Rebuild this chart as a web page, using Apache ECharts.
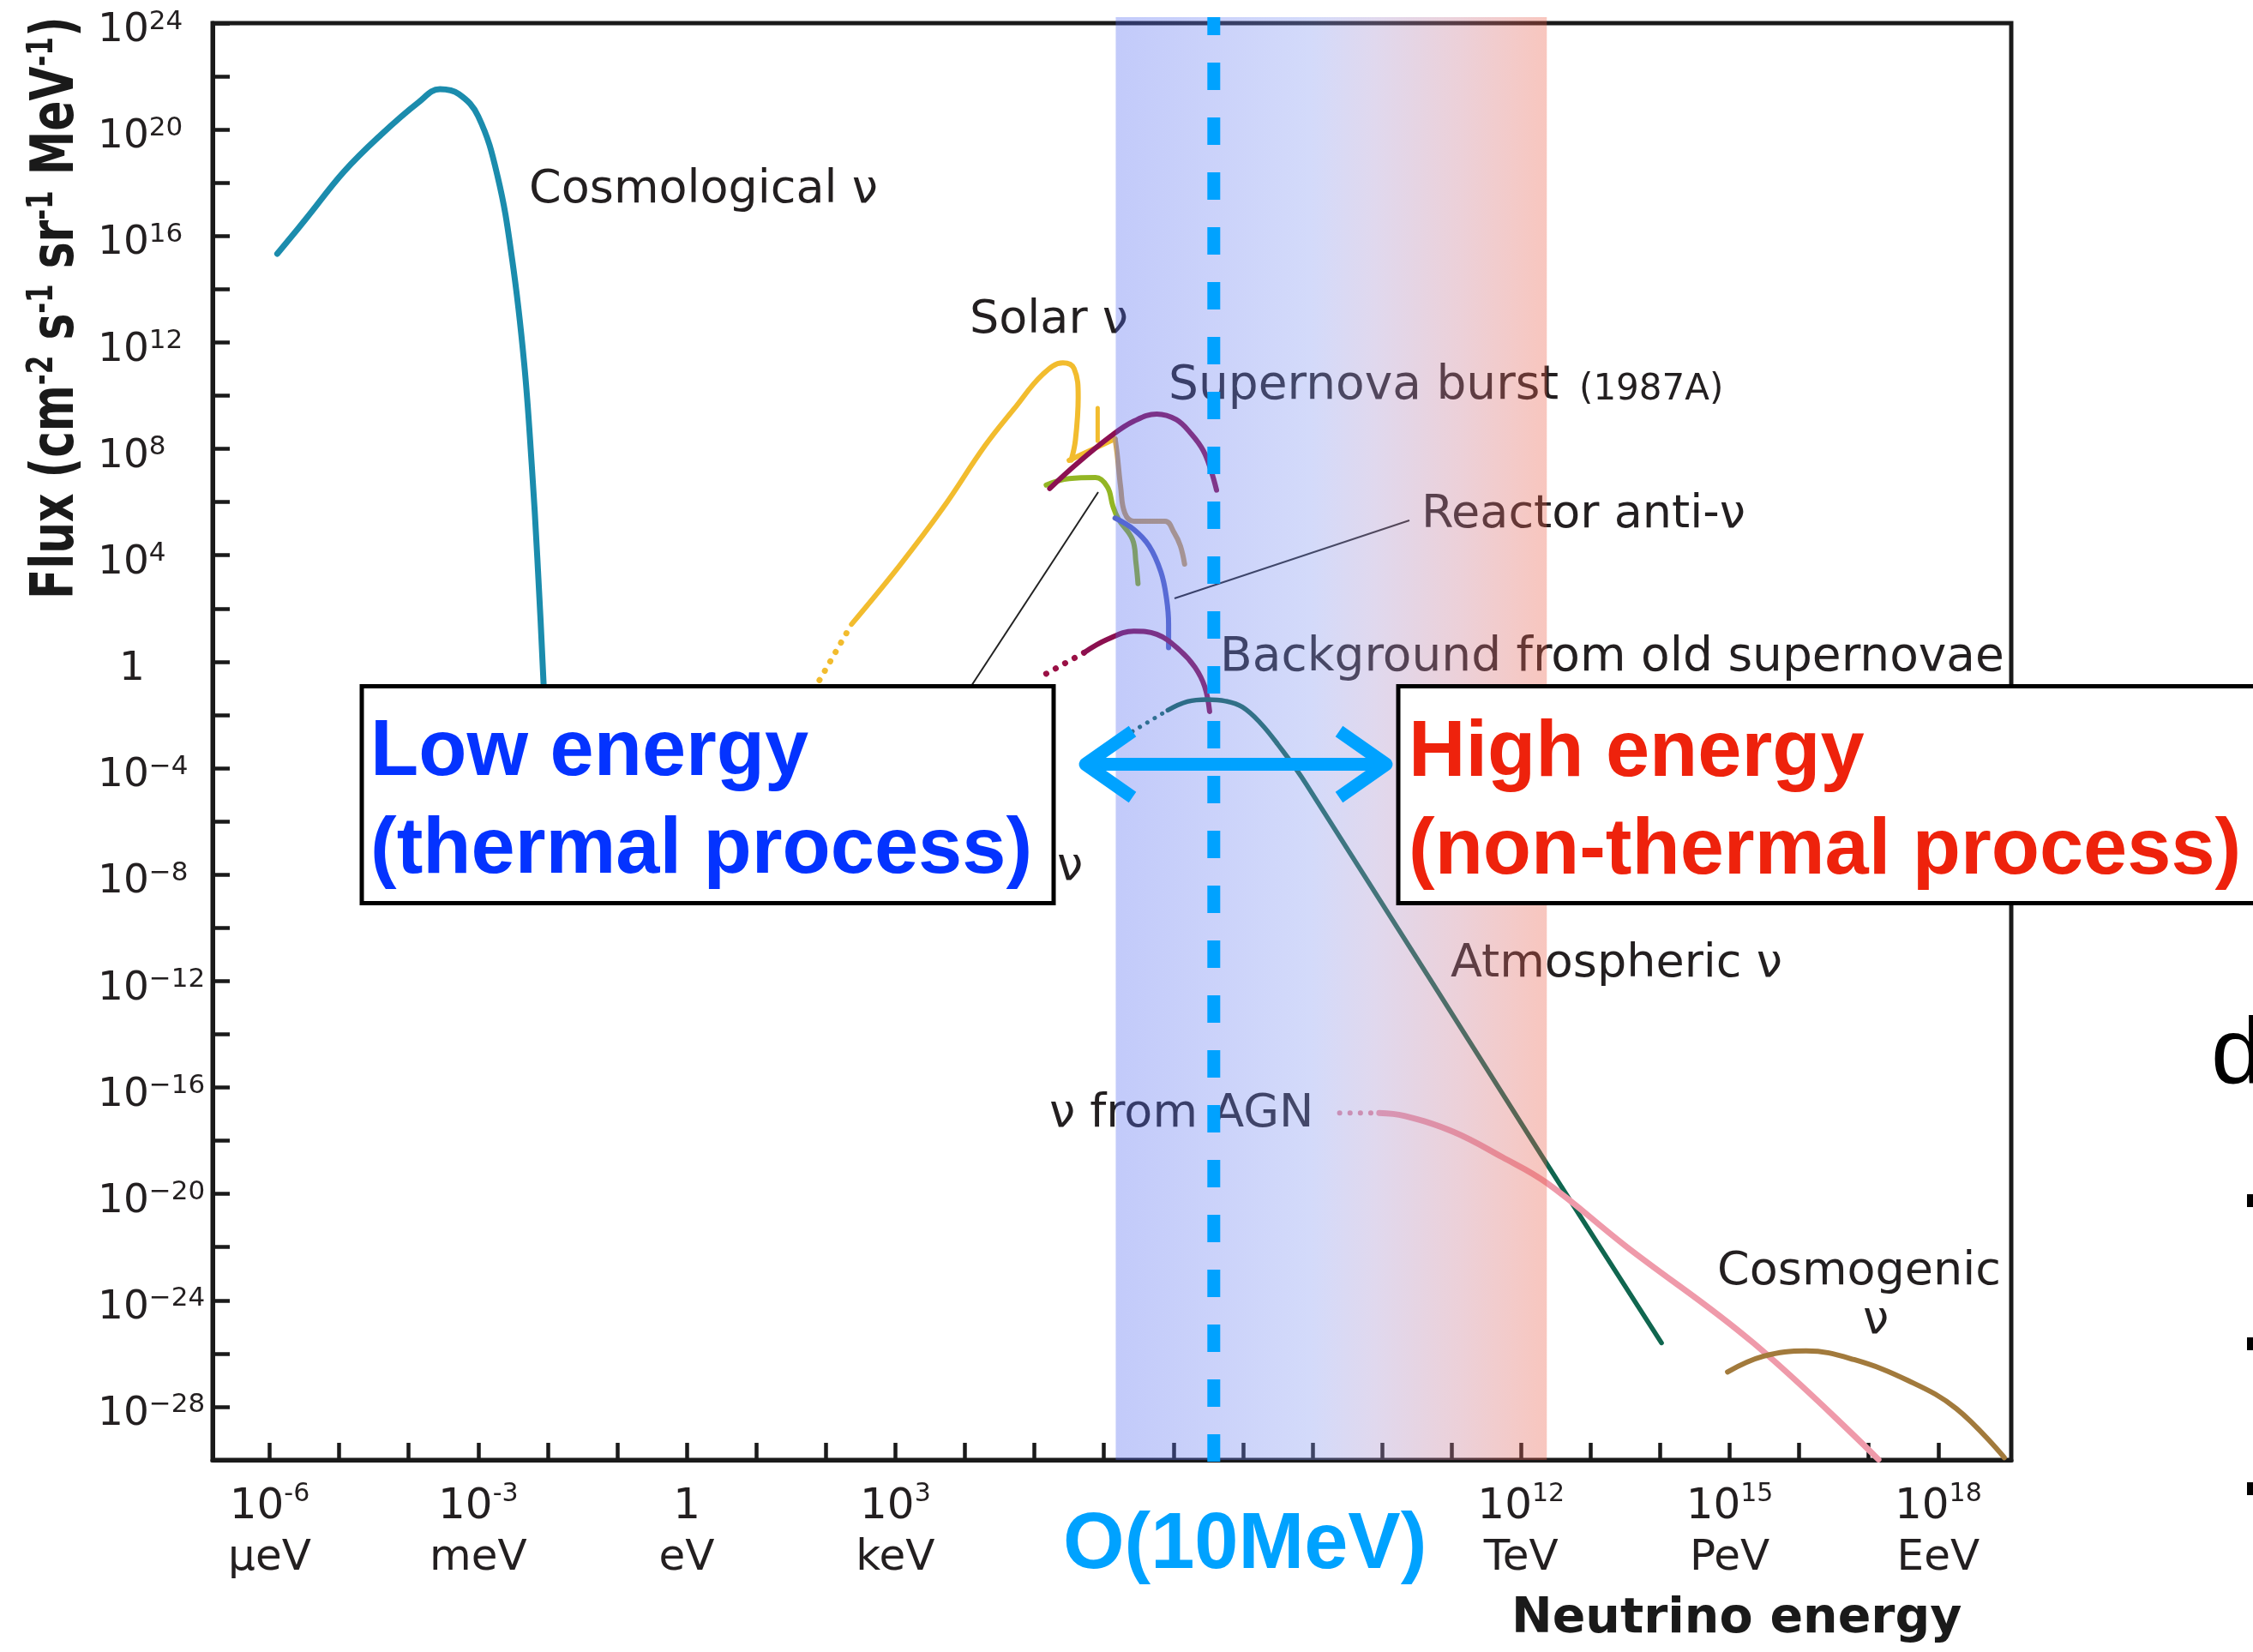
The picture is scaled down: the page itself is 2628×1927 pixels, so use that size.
<!DOCTYPE html>
<html>
<head>
<meta charset="utf-8">
<title>Neutrino flux spectrum</title>
<script src="https://cdn.jsdelivr.net/npm/echarts@6/dist/echarts.min.js"></script>
<style>
  html, body { margin: 0; padding: 0; background: #ffffff; }
  #chart { width: 2628px; height: 1927px; }
</style>
</head>
<body>
<div id="chart"></div>
<script>
// Every point is [log10(E / eV), log10(flux / cm^-2 s^-1 sr^-1 MeV^-1)]
const cosmological = [[-5.89, 15.33], [-5.46, 16.7], [-4.93, 18.42], [-4.4, 19.8], [-3.86, 21.02], [-3.55, 21.52], [-3.28, 21.34], [-3.0, 20.5], [-2.72, 18.23], [-2.51, 15.09], [-2.34, 11.25], [-2.23, 7.41], [-2.15, 3.92], [-2.06, -0.8], [-2.02, -3.5]];
const solarLowDotted = [[1.6, -2.1], [2.37, 1.41]];
const solarPP = [[2.37, 1.41], [3.06, 3.61], [3.68, 5.76], [4.29, 8.12], [4.71, 9.51], [5.12, 10.8], [5.41, 11.23], [5.57, 11.02], [5.63, 9.94], [5.59, 8.33], [5.53, 7.58]];
const solarLine = [[5.91, 9.53], [5.91, 8.3]];
const solarB8 = [[5.5, 7.57], [5.85, 8.0], [6.16, 8.38]];
const solarHigh = [[6.16, 8.38], [6.19, 7.81], [6.24, 6.57], [6.3, 5.59], [6.43, 5.28], [6.88, 5.28], [7.01, 4.85], [7.1, 4.35], [7.16, 3.67]];
const terrestrial = [[5.17, 6.64], [5.5, 6.88], [5.88, 6.92], [6.05, 6.57], [6.13, 5.84], [6.21, 5.35], [6.41, 4.6], [6.46, 3.74], [6.49, 2.94]];
const reactor = [[6.16, 5.4], [6.43, 4.97], [6.65, 4.35], [6.82, 3.37], [6.9, 2.38], [6.93, 1.4], [6.93, 0.53]];
const supernovaBurst = [[5.22, 6.51], [5.61, 7.44], [6.1, 8.48], [6.43, 9.04], [6.76, 9.31], [7.04, 9.1], [7.26, 8.55], [7.43, 7.93], [7.54, 7.19], [7.62, 6.45]];
const relicDotted = [[5.17, -0.45], [5.72, 0.35]];
const relicSupernova = [[5.72, 0.35], [6.05, 0.84], [6.43, 1.15], [6.76, 1.03], [7.1, 0.41], [7.31, -0.21], [7.45, -0.94], [7.52, -1.87]];
const atmosphericDotted = [[6.41, -2.62], [6.92, -1.82]];
const atmospheric = [[6.92, -1.82], [7.2, -1.5], [7.48, -1.42], [7.75, -1.48], [7.99, -1.7], [8.25, -2.3], [8.5, -3.1], [8.91, -4.6], [12.37, -18.87], [14.02, -25.6]];
const agnDotted = [[9.39, -16.96], [9.96, -16.96]];
const agn = [[9.96, -16.96], [10.32, -17.07], [11.02, -17.66], [11.73, -18.62], [12.37, -19.59], [13.5, -21.95], [15.34, -25.6], [17.14, -29.98]];
const cosmogenic = [[14.97, -26.69], [15.49, -26.1], [16.1, -25.9], [16.79, -26.23], [17.57, -27.02], [18.26, -28.07], [18.95, -29.91]];

// Axis ranges and tick labels (exponents)
const xRange = [-6.82, 19.05];
const yRange = [-30, 24];
const xTickExponents = [-6, -5, -4, -3, -2, -1, 0, 1, 2, 3, 4, 5, 6, 7, 8, 9, 10, 11, 12, 13, 14, 15, 16, 17, 18];
const xLabelExponents = [-6, -3, 0, 3, 12, 15, 18];
const xLabelUnits = ['μeV', 'meV', 'eV', 'keV', 'TeV', 'PeV', 'EeV'];
const yLabelStep = 4;

// Thermal / non-thermal split and the shaded energy band
const boundaryExponent = 7.58;
const bandExponents = [6.17, 12.37];

const TEXT = '#231f20';
const CYAN = '#00a2ff';
const SANS = '"DejaVu Sans", "Noto Sans", sans-serif';
const ARIAL = '"Liberation Sans", Arial, Helvetica, sans-serif';

function curve(name, data, color, width, extra) {
  return Object.assign({
    type: 'line', name: name, data: data, symbol: 'none', showSymbol: false,
    smooth: 0.4, silent: true, animation: false, z: 2,
    lineStyle: { color: color, width: width, cap: 'round', join: 'round' }
  }, extra || {});
}
function dotted(name, data, color, width, gap) {
  return curve(name, data, color, width, {
    smooth: false,
    lineStyle: { color: color, width: width, type: [0.1, gap], cap: 'round' }
  });
}

function minus(v) { return v < 0 ? '\u2212' + (-v) : String(v); }

const chart = echarts.init(document.getElementById('chart'), null, { renderer: 'canvas', width: 2628, height: 1927 });

chart.setOption({
  animation: false,
  backgroundColor: '#ffffff',
  grid: { left: 248, top: 27, right: 282, bottom: 224, show: true, borderColor: '#1a1a1a', borderWidth: 5 },
  xAxis: {
    type: 'value', min: xRange[0], max: xRange[1],
    axisLine: { show: true, onZero: false, lineStyle: { color: '#1a1a1a', width: 5 } },
    axisTick: { show: true, inside: true, length: 20, customValues: xTickExponents, lineStyle: { color: '#1a1a1a', width: 4.5 } },
    splitLine: { show: false },
    axisLabel: {
      show: true, customValues: xLabelExponents, margin: 25, color: TEXT,
      formatter: function (v) {
        const unit = xLabelUnits[xLabelExponents.indexOf(v)];
        if (v === 0) return '{b|1}\n{u|' + unit + '}';
        return '{b|10}{s|' + (v < 0 ? '-' + (-v) : v) + '}\n{u|' + unit + '}';
      },
      rich: {
        b: { fontFamily: SANS, fontSize: 50, lineHeight: 60, color: TEXT },
        s: { fontFamily: SANS, fontSize: 30, lineHeight: 40, verticalAlign: 'top', color: TEXT },
        u: { fontFamily: SANS, fontSize: 50, lineHeight: 60, color: TEXT }
      }
    }
  },
  yAxis: {
    type: 'value', min: yRange[0], max: yRange[1], interval: 2,
    axisLine: { show: true, onZero: false, lineStyle: { color: '#1a1a1a', width: 5 } },
    axisTick: { show: true, inside: true, length: 20, lineStyle: { color: '#1a1a1a', width: 4.5 } },
    splitLine: { show: false },
    axisLabel: {
      show: true, align: 'left', margin: 134, color: TEXT, showMaxLabel: true, showMinLabel: true,
      padding: [18, 0, 0, 0],
      formatter: function (v) {
        if (v % yLabelStep !== 0) return '';
        if (v === 0) return '{one|1}';
        return '{b|10}{s|' + minus(v) + '}';
      },
      rich: {
        b: { fontFamily: SANS, fontSize: 47, lineHeight: 52, color: TEXT },
        s: { fontFamily: SANS, fontSize: 31, lineHeight: 31, verticalAlign: 'top', color: TEXT },
        one: { fontFamily: SANS, fontSize: 47, lineHeight: 52, color: TEXT, padding: [0, 0, 0, 25] }
      }
    }
  },
  series: [
    curve('Cosmological ν', cosmological, '#1b8cad', 7),
    dotted('Solar ν (low)', solarLowDotted, '#f2bc2e', 7, 12.5),
    curve('Solar ν pp', solarPP, '#f2bc2e', 6),
    curve('Solar ν line', solarLine, '#f2bc2e', 5, { smooth: false }),
    curve('Solar ν 8B', solarB8, '#f2bc2e', 6),
    curve('Solar ν hep', solarHigh, '#c9a262', 6),
    curve('Terrestrial anti-ν', terrestrial, '#93b624', 6),
    curve('Reactor anti-ν', reactor, '#5566c6', 6),
    curve('Supernova burst', supernovaBurst, '#8c1052', 6),
    dotted('Old supernovae (low)', relicDotted, '#9a1045', 7, 12.5),
    curve('Background from old supernovae', relicSupernova, '#8c1050', 6),
    dotted('Atmospheric ν (low)', atmosphericDotted, '#1a6e60', 5, 10),
    curve('Atmospheric ν', atmospheric, '#10664f', 5.5),
    dotted('ν from AGN (low)', agnDotted, '#e58ea0', 6, 12),
    curve('ν from AGN', agn, '#ef9aaa', 7),
    curve('Cosmogenic ν', cosmogenic, '#a27a3c', 6)
  ]
});

// Annotation layer: labels, shaded band, boundary line, boxes
function label(text, x, baseline, size, extra, z) {
  const s = Object.assign({
    text: text, x: x, y: baseline - 0.29 * size,
    fontSize: size, fontFamily: SANS, fill: TEXT,
    align: 'left', verticalAlign: 'middle', textAlign: 'left', textVerticalAlign: 'middle'
  }, extra || {});
  return { type: 'text', z: z || 3, silent: true, style: s };
}

const px = function (e, f) { return chart.convertToPixel({ gridIndex: 0 }, [e, f]); };
const bandL = px(bandExponents[0], 0)[0];
const bandR = px(bandExponents[1], 0)[0];
const plotBottom = px(0, yRange[0])[1];
const lineX = px(boundaryExponent, 0)[0];

const bandFill = new echarts.graphic.LinearGradient(0, 0, 1, 0, [
  { offset: 0, color: 'rgba(81,104,241,0.35)' },
  { offset: 0.45, color: 'rgba(129,149,241,0.35)' },
  { offset: 0.6, color: 'rgba(166,144,206,0.35)' },
  { offset: 0.8, color: 'rgba(201,121,144,0.35)' },
  { offset: 1, color: 'rgba(235,92,69,0.35)' }
]);

const boxFont = { fontFamily: ARIAL, fontWeight: 'bold' };

const graphics = [
  label('Cosmological ν', 617, 238, 54),
  label('Solar ν', 1131, 390, 54),
  label('Supernova burst', 1363, 467, 55),
  label('(1987A)', 1842, 467, 42),
  label('Reactor anti-ν', 1658, 617, 54),
  label('Background from old supernovae', 1423, 784, 55),
  label('Atmospheric ν', 1692, 1141, 54),
  label('ν from AGN', 1224, 1316, 54),
  label('Cosmogenic', 2003, 1500, 54),
  label('ν', 2173, 1557, 54),
  label('ν', 1233, 1028, 54),
  // leader lines
  { type: 'line', z: 3, silent: true, shape: { x1: 1370, y1: 698, x2: 1644, y2: 607 }, style: { stroke: '#222', lineWidth: 2 } },
  { type: 'line', z: 3, silent: true, shape: { x1: 1281, y1: 574, x2: 1133, y2: 800 }, style: { stroke: '#222', lineWidth: 2 } },
  // energy band
  { type: 'rect', z: 4, silent: true, shape: { x: bandL, y: 20, width: bandR - bandL, height: plotBottom - 20 }, style: { fill: bandFill } },
  // boundary between thermal and non-thermal regimes
  { type: 'line', z: 5, silent: true, shape: { x1: lineX, y1: plotBottom + 2, x2: lineX, y2: 20 }, style: { stroke: CYAN, lineWidth: 15, lineDash: [32, 32] } },
  // double arrow
  { type: 'polyline', z: 5, silent: true, shape: { points: [[1272, 891.5], [1610, 891.5]] }, style: { stroke: CYAN, lineWidth: 15, fill: null } },
  { type: 'polyline', z: 5, silent: true, shape: { points: [[1321, 853], [1266, 891.5], [1321, 930]] }, style: { stroke: CYAN, lineWidth: 15, fill: null, lineJoin: 'round' } },
  { type: 'polyline', z: 5, silent: true, shape: { points: [[1562, 853], [1617, 891.5], [1562, 930]] }, style: { stroke: CYAN, lineWidth: 15, fill: null, lineJoin: 'round' } },
  // regime boxes
  { type: 'rect', z: 6, silent: true, shape: { x: 422, y: 800.5, width: 807, height: 253 }, style: { fill: '#ffffff', stroke: '#000', lineWidth: 5 } },
  { type: 'rect', z: 6, silent: true, shape: { x: 1631, y: 800.5, width: 1100, height: 253 }, style: { fill: '#ffffff', stroke: '#000', lineWidth: 5 } },
  label('Low energy', 432, 905, 92, Object.assign({ fill: '#0433ff' }, boxFont), 7),
  label('(thermal process)', 432, 1019, 92, Object.assign({ fill: '#0433ff' }, boxFont), 7),
  label('High energy', 1643, 906, 92, Object.assign({ fill: '#ee220c' }, boxFont), 7),
  label('(non-thermal process)', 1643, 1020, 92, Object.assign({ fill: '#ee220c' }, boxFont), 7),
  label('O(10MeV)', 1240, 1830, 92, Object.assign({ fill: CYAN }, boxFont), 7),
  // axis titles
  label('Neutrino energy', 1763, 1906, 57, { fontWeight: 'bold', fill: '#1a1a1a' }),
  {
    type: 'text', z: 3, silent: true, x: 67, y: 699, rotation: Math.PI / 2, scaleX: 0.74, scaleY: 1,
    style: {
      text: '{m|Flux (cm}{s|-2}{m| s}{s|-1}{m| sr}{s|-1}{m| MeV}{s|-1}{m|)}',
      x: 0, y: 0, align: 'left', verticalAlign: 'middle', textAlign: 'left', textVerticalAlign: 'middle',
      rich: {
        m: { fontFamily: SANS, fontWeight: 'bold', fontSize: 70, lineHeight: 76, fill: '#1a1a1a', color: '#1a1a1a' },
        s: { fontFamily: SANS, fontWeight: 'bold', fontSize: 42, lineHeight: 46, verticalAlign: 'top', fill: '#1a1a1a', color: '#1a1a1a' }
      }
    }
  },
  // neighbouring slide content at the right edge
  label('d', 2579, 1265, 110, { fontFamily: ARIAL, fill: '#000' }),
  { type: 'rect', z: 3, silent: true, shape: { x: 2621, y: 1393, width: 15, height: 15 }, style: { fill: '#000' } },
  { type: 'rect', z: 3, silent: true, shape: { x: 2621, y: 1560, width: 15, height: 15 }, style: { fill: '#000' } },
  { type: 'rect', z: 3, silent: true, shape: { x: 2621, y: 1729, width: 15, height: 15 }, style: { fill: '#000' } }
];

chart.setOption({ graphic: { elements: graphics } });
</script>
</body>
</html>
